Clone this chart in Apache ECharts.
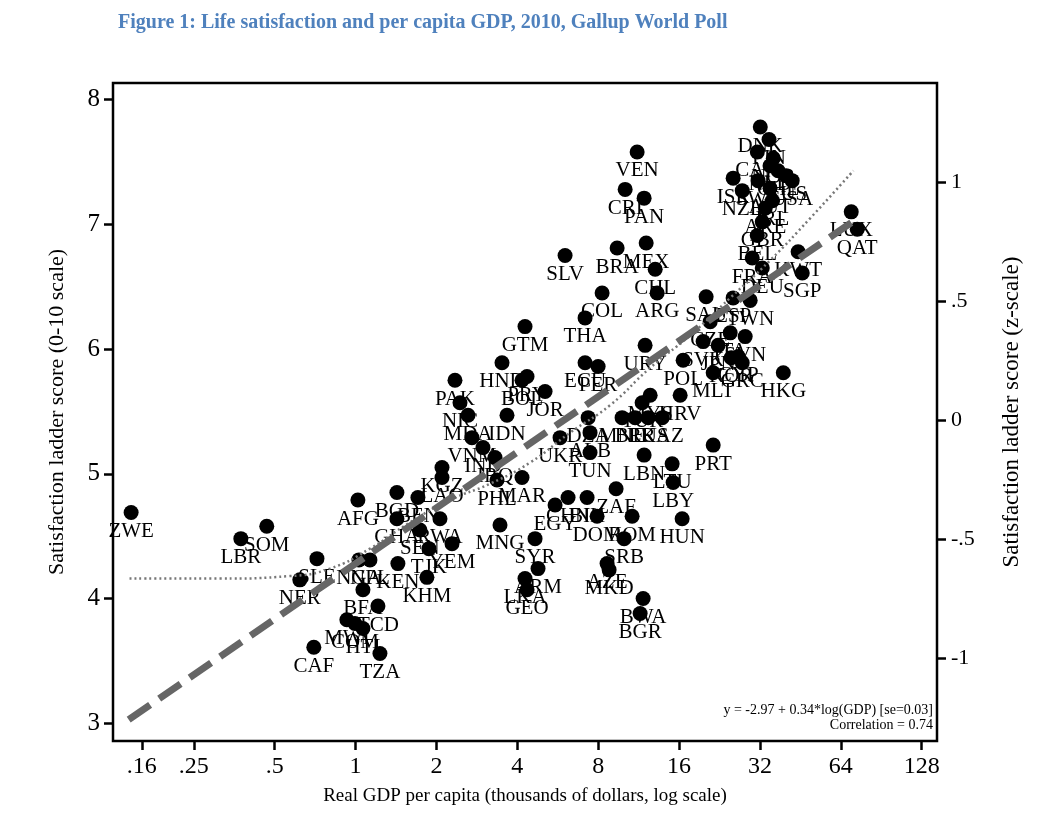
<!DOCTYPE html>
<html>
<head>
<meta charset="utf-8">
<script src="https://cdn.jsdelivr.net/npm/echarts@6/dist/echarts.min.js"></script>
<style>
html,body{margin:0;padding:0;background:#fff;}
#chart{width:1045px;height:825px;}
</style>
</head>
<body>
<div id="chart"></div>
<script>
// country codes, real GDP per capita (thousands, 2010) and mean ladder score
var countries = ['ZWE','LBR','SOM','SLE','NER','CAF','TZA','MWI','COM','HTI','TCD','BFA','NGA','NPL','KEN',
	'AFG','BGD','GHA','SEN','RWA','BEN','YEM','TJK','KHM','KGZ','LAO','MNG','SYR','ARM','LKA','GEO',
	'EGY','CHN','BIH','ZAF','DOM','ROM','SRB','AZE','MKD','BWA','BGR','HUN','LBN','LTU','LBY','PRT',
	'TUN','ALB','DZA','UKR','MAR','PHL','IRQ','IND','VNM','MDA','IDN','NIC','PAK','HND','BOL','PRY',
	'JOR','GTM','THA','COL','SLV','BRA','MEX','CHL','ARG','VEN','CRI','PAN','ECU','PER','URY','POL',
	'HRV','TUR','MYS','MNE','BLR','RUS','KAZ','SAU','ESP','TWN','CZE','ITA','SVN','SVK','JPN','KOR',
	'GRC','MLT','CYP','HKG','LUX','QAT','KWT','SGP','FRA','DEU','BEL','GBR','ARE','IRL','NZL','ISR',
	'AUT','USA','SWE','AUS','CHE','NLD','NOR','CAN','FIN','DNK'];
var gdp = [0.146,0.374,0.467,0.718,0.620,0.699,1.232,0.928,0.994,1.065,1.211,1.065,1.029,1.131,1.437,
	1.020,1.425,1.425,1.736,2.061,1.706,2.285,1.875,1.843,2.097,2.097,3.448,4.656,4.777,4.273,4.347,
	5.528,6.179,7.274,9.327,7.924,10.70,9.99,8.634,8.785,11.76,11.46,16.43,11.86,15.08,15.21,21.44,
	7.46,7.46,7.34,5.77,4.164,3.361,3.303,2.980,2.711,2.621,3.661,2.447,2.344,3.508,4.164,4.347,
	5.073,4.273,7.149,8.273,6.023,9.41,12.07,13.04,13.26,11.17,10.08,11.86,7.149,7.995,11.96,16.57,
	16.15,11.66,12.49,9.82,10.98,12.28,13.84,20.18,25.44,29.44,20.89,24.80,28.2,19.67,22.37,25.01,
	27.5,21.44,26.56,39.1,70.0,73.7,44.4,46.0,29.96,32.65,31.28,32.65,33.5,35.6,27.5,25.44,
	34.9,42.2,31.5,40.1,37.4,34.9,35.9,31.3,34.6,32.1];
var ladder = [4.69,4.48,4.58,4.32,4.15,3.61,3.56,3.83,3.80,3.76,3.94,4.07,4.31,4.31,4.28,
	4.79,4.85,4.64,4.55,4.64,4.81,4.44,4.40,4.17,5.05,4.97,4.59,4.48,4.24,4.16,4.07,
	4.75,4.81,4.81,4.88,4.66,4.66,4.48,4.28,4.23,4.00,3.88,4.64,5.15,5.08,4.93,5.23,
	5.17,5.33,5.45,5.29,4.97,4.95,5.13,5.21,5.29,5.47,5.47,5.57,5.75,5.89,5.75,5.78,
	5.66,6.18,6.25,6.45,6.75,6.81,6.85,6.64,6.45,7.58,7.28,7.21,5.89,5.86,6.03,5.91,
	5.63,5.57,5.63,5.45,5.45,5.45,5.45,6.42,6.41,6.39,6.22,6.13,6.10,6.06,6.03,5.93,
	5.89,5.81,5.94,5.81,7.10,6.96,6.78,6.61,6.73,6.65,6.91,7.02,7.13,7.19,7.27,7.37,
	7.29,7.35,7.35,7.39,7.43,7.47,7.53,7.58,7.68,7.78];

// regression line ends and lowess curve
var fitX = [0.143, 74];
var fitY = [3.03, 7.05];
var lowessX = [0.144,0.312,0.569,0.802,1.131,1.593,2.245,3.165,4.46,6.29,8.86,12.49,17.6,24.8,34.9,49.3,71.3];
var lowessY = [4.16,4.16,4.18,4.24,4.40,4.61,4.79,4.92,5.09,5.33,5.55,5.85,6.11,6.41,6.71,7.05,7.43];

// tick labels
var xTicks = [0.16,0.25,0.5,1,2,4,8,16,32,64,128];
var yTicks = [3,4,5,6,7,8];
var zTicks = [-1,-0.5,0,0.5,1];

var FONT = 'Liberation Serif';

function shortNum(v) {
	if (v == 0) return '0';
	var s = String(+Math.abs(v).toFixed(2)).replace(/^0/, '');
	return (v < 0 ? '-' : '') + s;
}

var points = [];
for (var i = 0; i < countries.length; i++) {
	points.push([gdp[i], ladder[i], countries[i]]);
}
var fitLine = fitX.map(function(x, i) { return [x, fitY[i]]; });
var lowess = lowessX.map(function(x, i) { return [x, lowessY[i]]; });

var tickStyle = { color: '#000', width: 2.5 };

var chart = echarts.init(document.getElementById('chart'));
var option = {
	animation: false,
	backgroundColor: '#fff',
	title: {
		text: 'Figure 1: Life satisfaction and per capita GDP, 2010, Gallup World Poll',
		left: 113,
		top: 8,
		textStyle: { color: '#4F81BD', fontFamily: FONT, fontSize: 20, fontWeight: 'bold' }
	},
	grid: {
		left: 113, top: 83, width: 824, height: 658,
		show: true, borderColor: '#000', borderWidth: 2.5, backgroundColor: '#fff'
	},
	xAxis: [
		{
			type: 'log', logBase: 2, min: 0.125, max: 146,
			axisLine: { show: false, onZero: false }, axisTick: { show: false },
			axisLabel: { show: false }, splitLine: { show: false }
		},
		{
			// same scale in log2 units, only used to place the tick marks
			type: 'value', position: 'bottom', min: -3, max: 7.19,
			name: 'Real GDP per capita (thousands of dollars, log scale)',
			nameLocation: 'middle', nameGap: 46,
			nameTextStyle: { fontFamily: FONT, fontSize: 19, color: '#000' },
			axisLine: { show: false, onZero: false },
			axisTick: { show: true, length: 9, lineStyle: tickStyle,
				customValues: xTicks.map(Math.log2) },
			axisLabel: { fontFamily: FONT, fontSize: 24, color: '#000', margin: 14,
				customValues: xTicks.map(Math.log2),
				formatter: function(v) {
					var g = Math.pow(2, v);
					return g < 1 ? shortNum(g) : String(Math.round(g));
				} },
			splitLine: { show: false }
		}
	],
	yAxis: [
		{
			type: 'value', min: 2.858, max: 8.133, position: 'left',
			name: 'Satisfaction ladder score (0-10 scale)',
			nameLocation: 'middle', nameGap: 45, nameRotate: 90,
			nameTextStyle: { fontFamily: FONT, fontSize: 22, color: '#000' },
			axisLine: { show: false, onZero: false },
			axisTick: { show: true, length: 9, lineStyle: tickStyle, customValues: yTicks },
			axisLabel: { fontFamily: FONT, fontSize: 25, color: '#000', margin: 13, customValues: yTicks },
			splitLine: { show: false }
		},
		{
			type: 'value', min: -1.347, max: 1.415, position: 'right',
			name: 'Satisfaction ladder score (z-scale)',
			nameLocation: 'middle', nameGap: 63, nameRotate: 90,
			nameTextStyle: { fontFamily: FONT, fontSize: 23, color: '#000' },
			axisLine: { show: false, onZero: false },
			axisTick: { show: true, length: 9, lineStyle: tickStyle, customValues: zTicks },
			axisLabel: { fontFamily: FONT, fontSize: 22, color: '#000', margin: 14, customValues: zTicks,
				formatter: shortNum },
			splitLine: { show: false }
		}
	],
	graphic: [
		{
			type: 'text', right: 112, top: 703,
			style: { text: 'y = -2.97 + 0.34*log(GDP) [se=0.03]', fill: '#000',
				font: '14px "Liberation Serif"', textAlign: 'right' }
		},
		{
			type: 'text', right: 112, top: 718,
			style: { text: 'Correlation = 0.74', fill: '#000',
				font: '14px "Liberation Serif"', textAlign: 'right' }
		}
	],
	series: [
		{
			type: 'scatter', xAxisIndex: 0, yAxisIndex: 0,
			data: points,
			symbol: 'circle', symbolSize: 15,
			itemStyle: { color: '#000', opacity: 1 },
			label: {
				show: true, position: 'bottom', distance: 1,
				fontFamily: FONT, fontSize: 21, color: '#000',
				formatter: function(p) { return p.value[2]; }
			},
			z: 2
		},
		{
			type: 'line', xAxisIndex: 0, yAxisIndex: 0,
			data: lowess, smooth: true, symbol: 'none',
			lineStyle: { color: '#777', width: 2.5, type: [2, 3] },
			z: 3
		},
		{
			type: 'line', xAxisIndex: 0, yAxisIndex: 0,
			data: fitLine, symbol: 'none',
			lineStyle: { color: '#666', width: 7, type: [26, 11] },
			z: 4
		}
	]
};
chart.setOption(option);
</script>
</body>
</html>
